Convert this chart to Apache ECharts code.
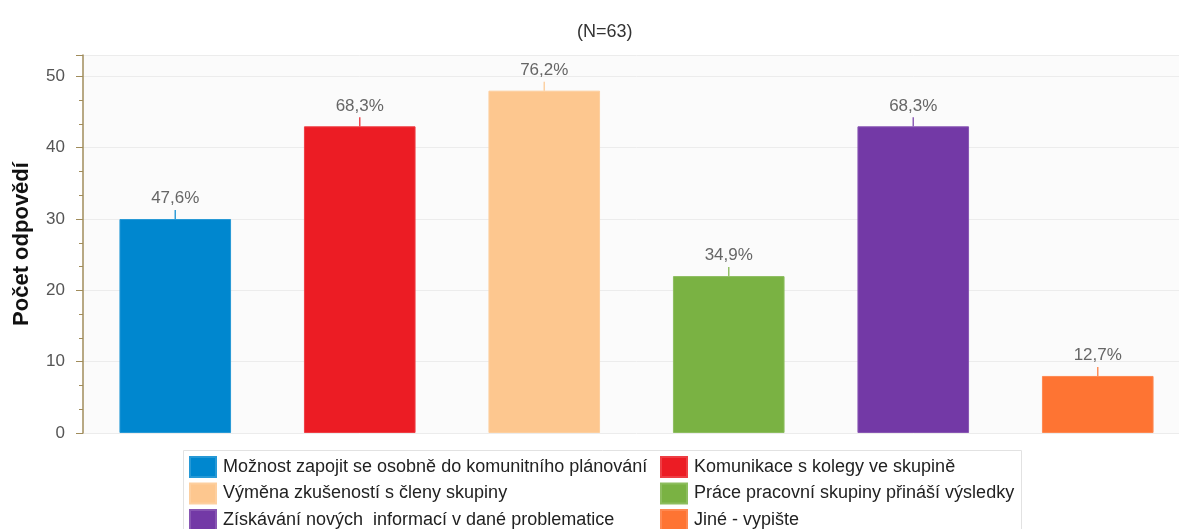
<!DOCTYPE html>
<html>
<head>
<meta charset="utf-8">
<script src="https://cdn.jsdelivr.net/npm/echarts@6/dist/echarts.min.js"></script>
<style>html,body{margin:0;padding:0;background:#fff;overflow:hidden}#c{width:1190px;height:529px}</style>
</head>
<body>
<div id="c"></div>
<script>
var categories = [
  'Možnost zapojit se osobně do komunitního plánování',
  'Komunikace s kolegy ve skupině',
  'Výměna zkušeností s členy skupiny',
  'Práce pracovní skupiny přináší výsledky',
  'Získávání nových  informací v dané problematice',
  'Jiné - vypište'
];
var counts = [30, 43, 48, 22, 43, 8];
var pctLabels = ['47,6%', '68,3%', '76,2%', '34,9%', '68,3%', '12,7%'];
var colors = ['#0087cf', '#ec1c24', '#fdc78f', '#7ab243', '#7339a6', '#fe7433'];
var yTicks = [0, 10, 20, 30, 40, 50];

var series = categories.map(function (name, i) {
  var d = categories.map(function (_, j) { return j === i ? counts[j] : null; });
  return {
    name: name,
    type: 'bar',
    stack: 'all',
    barWidth: '60.5%',
    data: d,
    itemStyle: { color: colors[i], borderColor: echarts.color.lift(colors[i], 0.15), borderWidth: 1 },
    label: {
      show: true, position: 'top', distance: 12,
      formatter: function () { return pctLabels[i]; },
      color: '#666', fontSize: 17, fontFamily: 'Liberation Sans'
    }
  };
});
series.push({
  type: 'scatter',
  symbol: 'rect',
  symbolSize: [1.5, 9],
  symbolOffset: [0, -4.5],
  silent: true,
  z: 5,
  data: counts.map(function (v, i) { return { value: [i, v], itemStyle: { color: colors[i] } }; })
});

var legendCommon = {
  orient: 'vertical', top: 456, height: 80, padding: 0,
  itemWidth: 26, itemHeight: 20, itemGap: 4.5,
  icon: 'rect', selectedMode: false,
  textStyle: { fontSize: 18, lineHeight: 20, color: '#222', fontFamily: 'Liberation Sans', padding: [0, 0, 0, 2] }
};

var chart = echarts.init(document.getElementById('c'));
chart.setOption({
  animation: false,
  textStyle: { fontFamily: 'Liberation Sans' },
  title: {
    text: '(N=63)', left: 572, top: 18,
    textStyle: { fontSize: 18, fontWeight: 'normal', color: '#333', fontFamily: 'Liberation Sans' }
  },
  grid: { left: 83, right: 0, top: 55, bottom: 96, show: true, backgroundColor: '#fbfbfb', borderWidth: 0 },
  xAxis: {
    type: 'category', data: categories,
    axisLine: { show: false }, axisTick: { show: false }, axisLabel: { show: false }
  },
  yAxis: {
    type: 'value', min: 0, max: 53, interval: 10,
    name: 'Počet odpovědí', nameLocation: 'middle', nameGap: 50,
    nameTextStyle: { fontSize: 22, fontWeight: 'bold', color: '#111', fontFamily: 'Liberation Sans' },
    axisLine: { show: true, lineStyle: { color: '#a08c5b', width: 1.5 } },
    axisTick: { show: true, length: 7, lineStyle: { color: '#a08c5b' } },
    minorTick: { show: true, splitNumber: 3, length: 4, lineStyle: { color: '#a08c5b' } },
    axisLabel: {
      color: '#555', fontSize: 17, margin: 18, showMaxLabel: false,
      formatter: function (v) { return yTicks.indexOf(v) >= 0 ? String(v) : ''; }
    },
    splitLine: { show: true, lineStyle: { color: '#ececec' } }
  },
  legend: [
    Object.assign({ left: 189, data: [categories[0], categories[2], categories[4]] }, legendCommon),
    Object.assign({ left: 660, data: [categories[1], categories[3], categories[5]] }, legendCommon)
  ],
  graphic: [{
    type: 'rect', left: 183, top: 450, silent: true, z: -1,
    shape: { width: 838, height: 90 },
    style: { fill: '#fff', stroke: '#e2e2e2', lineWidth: 1 }
  }],
  series: series
});
</script>
</body>
</html>
